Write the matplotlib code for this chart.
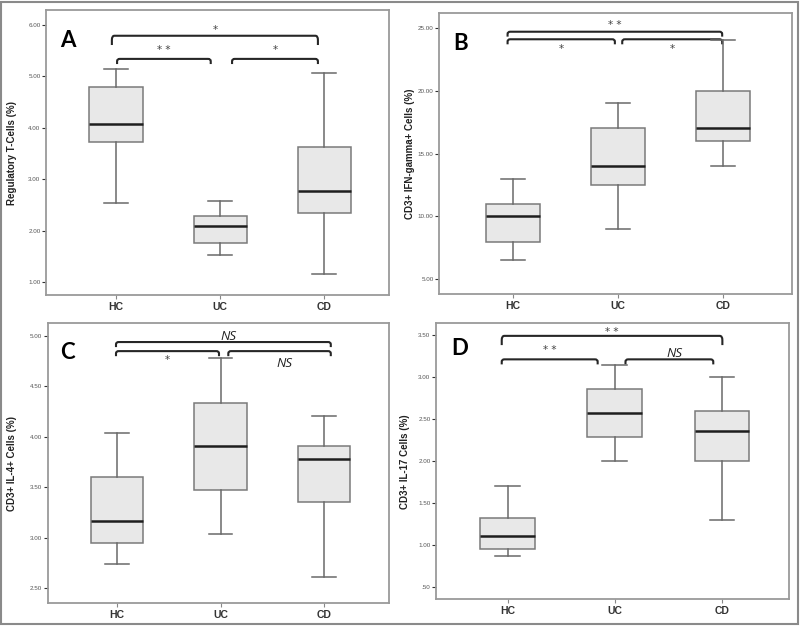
import matplotlib.pyplot as plt
from matplotlib.path import Path
from matplotlib.patches import PathPatch, Rectangle

groups = ["HC", "UC", "CD"]

# box stats per panel: (whislo, q1, med, q3, whishi) for HC, UC, CD
treg = [(2.53, 3.73, 4.08, 4.80, 5.15), (1.53, 1.77, 2.10, 2.29, 2.58), (1.15, 2.35, 2.77, 3.63, 5.06)]
ifng = [(6.5, 8.0, 10.0, 11.0, 13.0), (9.0, 12.5, 14.0, 17.0, 19.0), (14.0, 16.0, 17.0, 20.0, 24.0)]
il4 = [(2.74, 2.95, 3.17, 3.60, 4.04), (3.04, 3.47, 3.91, 4.34, 4.78), (2.61, 3.35, 3.78, 3.91, 4.21)]
il17 = [(0.87, 0.95, 1.10, 1.32, 1.70), (2.00, 2.29, 2.57, 2.86, 3.14), (1.30, 2.00, 2.36, 2.60, 3.00)]

ylabels = ["Regulatory T-Cells (%)", "CD3+ IFN-gamma+ Cells (%)",
           "CD3+ IL-4+ Cells (%)", "CD3+ IL-17 Cells (%)"]
letters = ["A", "B", "C", "D"]
yticks = [[1, 2, 3, 4, 5, 6], [5, 10, 15, 20, 25],
          [2.5, 3.0, 3.5, 4.0, 4.5, 5.0], [0.5, 1.0, 1.5, 2.0, 2.5, 3.0, 3.5]]
ylims = [(0.75, 6.29), (3.83, 26.14), (2.35, 5.126), (0.35, 3.64)]
xlims = [(0.327, 3.625), (0.30, 3.65), (0.33, 3.63), (0.33, 3.63)]

# significance brackets: x1, x2, y, tip, label, label y
sig = [
    [(0.96, 2.94, 5.79, 5.61, "*", 5.90), (1.01, 1.91, 5.34, 5.24, "* *", 5.52), (2.115, 2.94, 5.34, 5.24, "*", 5.52)],
    [(0.95, 2.99, 24.68, 24.29, "* *", 25.2), (0.95, 1.97, 24.08, 23.68, "*", 23.3), (2.04, 2.99, 24.08, 23.68, "*", 23.3)],
    [(0.99, 3.065, 4.94, 4.89, "NS", 4.99), (0.99, 1.985, 4.85, 4.80, "*", 4.76), (2.075, 3.065, 4.85, 4.80, "NS", 4.73)],
    [(0.944, 3.005, 3.49, 3.38, "* *", 3.54), (0.944, 1.84, 3.21, 3.15, "* *", 3.32), (2.10, 2.92, 3.21, 3.15, "NS", 3.28)],
]

panels = [treg, ifng, il4, il17]
rects = [[0.0575, 0.5295, 0.429, 0.4545], [0.549, 0.531, 0.4405, 0.4477],
         [0.0596, 0.0378, 0.427, 0.4466], [0.545, 0.0442, 0.4416, 0.4402]]
ylab_x = [-0.085, -0.069, -0.09, -0.074]
letter_xy = [(0.041, 0.871), (0.04, 0.869), (0.036, 0.871), (0.044, 0.885)]

fig = plt.figure(figsize=(8, 6.27), dpi=100)
fig.patches.append(Rectangle((1 / 800, 3 / 627), 797 / 800, 622 / 627, transform=fig.transFigure,
                             fill=False, edgecolor="#8a8a8a", lw=1.5))


def bracket(ax, x1, x2, y, tip):
    ry = (y - tip) * 0.45
    rx = 0.025
    verts = [(x1, tip), (x1, y - ry), (x1, y), (x1 + rx, y), (x2 - rx, y), (x2, y), (x2, y - ry), (x2, tip)]
    codes = [Path.MOVETO, Path.LINETO, Path.CURVE3, Path.CURVE3, Path.LINETO, Path.CURVE3, Path.CURVE3, Path.LINETO]
    ax.add_patch(PathPatch(Path(verts, codes), fill=False, edgecolor="#262626", lw=1.5))


def fmt(v):
    s = "%.2f" % v
    return s[1:] if s.startswith("0") else s


for i in range(4):
    ax = fig.add_axes(rects[i])
    stats = []
    for g, (lo, q1, med, q3, hi) in zip(groups, panels[i]):
        stats.append(dict(label=g, whislo=lo, q1=q1, med=med, q3=q3, whishi=hi, fliers=[]))
    ax.bxp(stats, positions=[1, 2, 3], widths=0.51, patch_artist=True, showfliers=False,
           boxprops=dict(facecolor="#e8e8e8", edgecolor="#7a7a7a", lw=1.1),
           medianprops=dict(color="#1e1e1e", lw=1.8),
           whiskerprops=dict(color="#6a6a6a", lw=1.1),
           capprops=dict(color="#6a6a6a", lw=1.1), capwidths=0.23)
    ax.set_xlim(*xlims[i])
    ax.set_ylim(*ylims[i])
    ax.set_yticks(yticks[i])
    ax.set_yticklabels([fmt(v) for v in yticks[i]], fontsize=4.5, color="#555555",
                       family="Liberation Sans")
    ax.set_xticks([1, 2, 3])
    ax.set_xticklabels(groups, fontsize=7.5, fontweight="bold", color="#333333",
                       family="Liberation Sans")
    ax.tick_params(axis="y", length=3, width=0.8, color="#333333", pad=1)
    ax.tick_params(axis="x", length=3, width=0.8, color="#888888", pad=2)
    for s in ax.spines.values():
        s.set_color("#9a9a9a")
        s.set_linewidth(1.3)
    ax.set_ylabel(ylabels[i], fontsize=7, fontweight="bold", color="#222222",
                  family="Liberation Sans")
    ax.yaxis.set_label_coords(ylab_x[i], 0.5)
    ax.text(letter_xy[i][0], letter_xy[i][1], letters[i], transform=ax.transAxes,
            fontsize=16, fontweight="bold", family="Lato", color="black", va="baseline")
    for (x1, x2, y, tip, lab, ly) in sig[i]:
        bracket(ax, x1, x2, y, tip)
        if lab == "NS":
            ax.text((x1 + x2) / 2 + 0.05, ly, lab, fontsize=9.5, style="italic", family="Open Sans",
                    ha="center", va="center", color="#222222")
        else:
            ax.text((x1 + x2) / 2, ly, lab, fontsize=7.5, family="DejaVu Sans",
                    ha="center", va="center", color="#444444")

fig.savefig("out.png", dpi=100)
